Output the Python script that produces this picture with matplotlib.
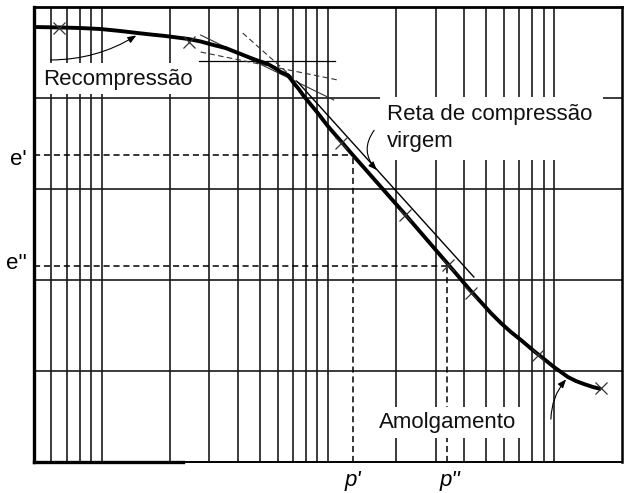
import matplotlib
matplotlib.use("Agg")
import matplotlib.pyplot as plt
from matplotlib.patches import Rectangle

plt.rcParams['font.family'] = ['Liberation Sans', 'DejaVu Sans']

# ------------------------------------------------------------
# Data: e - log p compression curve
# ------------------------------------------------------------
curve_p = [0.505, 0.659, 0.807, 0.99, 1.214, 1.443, 1.647, 1.92, 2.427, 2.742,
           3.13, 3.538, 3.916, 4.563, 4.951, 5.426, 5.829, 6.195, 6.653, 7.071,
           7.44, 7.831, 9.03, 10.0, 11.42, 12.9, 21.91, 33.96, 42.93, 47.54,
           52.63, 58.3, 64.5, 71.45, 81.55, 92.18, 100.0, 107.4, 115.3, 125.1,
           135.7, 148.8, 161.4]
curve_e = [4.78, 4.775, 4.769, 4.758, 4.736, 4.714, 4.698, 4.681, 4.648, 4.621,
           4.582, 4.549, 4.505, 4.44, 4.407, 4.374, 4.33, 4.286, 4.253, 4.165,
           4.099, 4.022, 3.835, 3.692, 3.527, 3.374, 2.725, 2.176, 1.879, 1.758,
           1.637, 1.527, 1.429, 1.341, 1.22, 1.115, 1.044, 0.989, 0.934, 0.89,
           0.857, 0.824, 0.802]

point_p = [0.645, 2.427, 11.42, 21.91, 33.96, 42.93, 84.99, 161.4]
point_e = [4.769, 4.615, 3.505, 2.714, 2.165, 1.857, 1.176, 0.813]

# Casagrande construction
horiz_p, horiz_e = [2.687, 10.74], [4.407, 4.407]
tangent_p, tangent_e = [2.742, 10.63], [4.692, 3.978]
bisector_p, bisector_e = [2.742, 11.07], [4.505, 4.198]
virgin_ext_p, virgin_ext_e = [4.206, 7.365], [4.714, 4.176]
virgin_p, virgin_e = [7.365, 44.26], [4.176, 2.033]

# reference values
e1, e2 = 3.37, 2.15
p1, p2 = 12.9, 33.6

# log grid
grid_p = [0.6, 0.7, 0.8, 0.9, 1, 2, 3, 4, 5, 6, 7, 8, 9, 10,
          20, 30, 40, 50, 60, 70, 80, 90, 100]
grid_e = [1, 2, 3, 4]

fig = plt.figure(figsize=(6.28, 4.93), dpi=100)
ax = fig.add_axes([33.5 / 628, 1 - 462 / 493, 588.5 / 628, 455 / 493])
ax.set_xscale('log')
ax.set_xlim(0.5, 200)
ax.set_ylim(0, 5)
ax.tick_params(which='both', length=0, labelbottom=False, labelleft=False)
ax.xaxis.set_minor_locator(matplotlib.ticker.NullLocator())

for g in grid_p:
    ax.axvline(g, color='#1a1a1a', lw=1.2, zorder=1)
for g in grid_e:
    ax.axhline(g, color='#1a1a1a', lw=1.2, zorder=1)

for side, lw in [('left', 2.4), ('top', 2.0), ('right', 1.8), ('bottom', 1.4)]:
    ax.spines[side].set_linewidth(lw)
    ax.spines[side].set_zorder(6)
ax.plot([0.5, 2.28], [0, 0], color='black', lw=2.4, clip_on=False, zorder=6)

# white masks behind labels
mask_kw = dict(facecolor='white', edgecolor='none', zorder=3)
ax.add_patch(Rectangle((0.5, 4.044), 2.66 - 0.5, 4.385 - 4.044, **mask_kw))
ax.add_patch(Rectangle((17.1, 3.319), 165 - 17.1, 4.016 - 3.319, **mask_kw))
ax.add_patch(Rectangle((16.3, 0.264), 75.3 - 16.3, 0.604 - 0.264, **mask_kw))

# dashed reference lines
dash = (0, (4, 2.5))
ax.plot([0.5, p1], [e1, e1], color='black', lw=1.1, ls=dash, zorder=2)
ax.plot([p1, p1], [0, e1], color='black', lw=1.1, ls=dash, zorder=2)
ax.plot([0.5, p2], [e2, e2], color='black', lw=1.1, ls=dash, zorder=2)
ax.plot([p2, p2], [0, e2], color='black', lw=1.1, ls=dash, zorder=2)

# construction lines
ax.plot(horiz_p, horiz_e, color='black', lw=0.9, zorder=4)
ax.plot(tangent_p, tangent_e, color='#333333', lw=0.8, zorder=4)
ax.plot(bisector_p, bisector_e, color='#333333', lw=0.8, ls=(0, (5, 3)), zorder=4)
ax.plot(virgin_ext_p, virgin_ext_e, color='#333333', lw=0.8, ls=(0, (5, 3)), zorder=4)
ax.plot(virgin_p, virgin_e, color='black', lw=1.0, zorder=4)

# curve and points
ax.plot(curve_p, curve_e, color='black', lw=2.8, solid_joinstyle='round',
        solid_capstyle='butt', zorder=5)
ax.plot(point_p, point_e, ls='none', marker='x', ms=8, mew=0.9,
        color='#333333', zorder=5)

# labels
txt_kw = dict(fontsize=16, color='#111111', zorder=7)
ax.text(0.554, 4.143, 'Recompressão', ha='left', va='baseline', **txt_kw)
ax.text(18.24, 3.758, 'Reta de compressão', ha='left', va='baseline', **txt_kw)
ax.text(18.24, 3.462, 'virgem', ha='left', va='baseline', **txt_kw)
ax.text(16.81, 0.374, 'Amolgamento', ha='left', va='baseline', **txt_kw)

arrow_kw = dict(arrowstyle='-|>,head_length=0.5,head_width=0.2', color='black', lw=0.8)
ax.annotate('', xy=(1.458, 4.703), xytext=(0.577, 4.418),
            arrowprops=dict(connectionstyle='arc3,rad=0.15', **arrow_kw), zorder=7)
ax.annotate('', xy=(16.81, 3.187), xytext=(16.31, 3.67),
            arrowprops=dict(connectionstyle='arc3,rad=0.45', **arrow_kw), zorder=7)
ax.annotate('', xy=(115.3, 0.93), xytext=(96.98, 0.44),
            arrowprops=dict(connectionstyle='arc3,rad=-0.2', **arrow_kw), zorder=7)

# axis reference labels
ax.annotate("e'", xy=(0.5, e1), xytext=(-5, -7), textcoords='offset points',
            ha='right', va='baseline', fontsize=16, annotation_clip=False)
ax.annotate("e''", xy=(0.5, e2), xytext=(-5, -2), textcoords='offset points',
            ha='right', va='baseline', fontsize=16, annotation_clip=False)
ax.annotate("p'", xy=(p1, 0), xytext=(0, -17), textcoords='offset points',
            ha='center', va='baseline', fontsize=16, style='italic',
            annotation_clip=False)
ax.annotate("p''", xy=(p2, 0), xytext=(2, -17), textcoords='offset points',
            ha='center', va='baseline', fontsize=16, style='italic',
            annotation_clip=False)

fig.savefig('out.png', dpi=100, facecolor='white')
